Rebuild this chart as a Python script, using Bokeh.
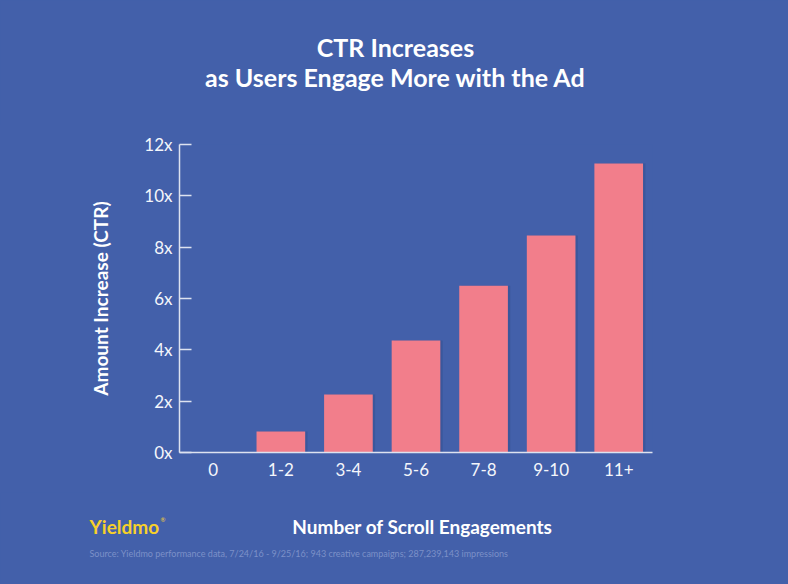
from bokeh.plotting import figure
from bokeh.models import Range1d, FactorRange, FixedTicker, Label, ColumnDataSource
from bokeh.layouts import column
from bokeh.transform import dodge
from bokeh.embed import file_html
from bokeh.resources import INLINE

categories = ["0", "1-2", "3-4", "5-6", "7-8", "9-10", "11+"]
ctr_increase = [0.0, 0.82, 2.26, 4.36, 6.5, 8.45, 11.26]
y_ticks = [0, 2, 4, 6, 8, 10, 12]
y_tick_labels = ["0x", "2x", "4x", "6x", "8x", "10x", "12x"]

title_lines = ["CTR Increases", "as Users Engage More with the Ad"]
x_title = "Number of Scroll Engagements"
y_title = "Amount Increase (CTR)"
brand = "Yieldmo"
source_note = "Source: Yieldmo performance data, 7/24/16 - 9/25/16; 943 creative campaigns; 287,239,143 impressions"

BG = "#4360AA"
BAR = "#F27E8B"
FONT = "Lato"
W = 788
H_TOP, H_MAIN, H_BOT = 124, 368, 92


def text_fig(h):
    f = figure(width=W, height=h, x_range=Range1d(0, W), y_range=Range1d(0, h),
               output_backend="svg", toolbar_location=None,
               x_axis_location=None, y_axis_location=None,
               min_border=0, min_border_left=0, min_border_right=0,
               min_border_top=0, min_border_bottom=0)
    f.frame_align = False
    f.background_fill_color = BG
    f.border_fill_color = BG
    f.outline_line_color = None
    f.grid.grid_line_color = None
    return f


def lab(f, h, top_off, x, y, text, size, color="#FFFFFF", bold=True, align="center"):
    # y given in page pixels; convert to frame-relative screen units (from bottom)
    f.add_layout(Label(x=x, y=h - (y - top_off), x_units="screen", y_units="screen", text=text,
                       text_font=FONT, text_font_size=size, text_color=color,
                       text_font_style="bold" if bold else "normal",
                       text_align=align, text_baseline="middle"))


# ---- title block
top = text_fig(H_TOP)
lab(top, H_TOP, 0, 395, 46, title_lines[0], "25px")
lab(top, H_TOP, 0, 395, 76, title_lines[1], "25px")

# ---- main chart
src = ColumnDataSource(dict(cat=categories, val=ctr_increase))
p = figure(width=W, height=H_MAIN, x_range=FactorRange(*categories, range_padding=0),
           y_range=Range1d(0, 12), output_backend="svg", toolbar_location=None,
           min_border_left=179, min_border_right=136, min_border_top=20, min_border_bottom=40)
p.frame_align = False
p.background_fill_color = BG
p.border_fill_color = BG
p.outline_line_color = None
p.grid.grid_line_color = None

p.vbar(x=dodge("cat", 0.035, range=p.x_range), top="val", width=0.72, source=src,
       fill_color="#34508F", line_color=None, fill_alpha=0.55)
p.vbar(x="cat", top="val", width=0.72, source=src, fill_color=BAR, line_color=None)

axis_color = "#DDE2F0"
for ax in (p.xaxis[0], p.yaxis[0]):
    ax.axis_line_color = axis_color
    ax.axis_line_width = 1.5
    ax.major_label_text_color = "#F4F6FB"
    ax.major_label_text_font = FONT
    ax.major_label_text_font_size = "17px"
    ax.minor_tick_line_color = None

p.yaxis.ticker = FixedTicker(ticks=y_ticks)
p.yaxis.major_label_overrides = {t: l for t, l in zip(y_ticks, y_tick_labels)}
p.yaxis.major_tick_in = 12
p.yaxis.major_tick_out = 0
p.yaxis.major_tick_line_color = axis_color
p.yaxis.major_tick_line_width = 1.5
p.yaxis.major_label_standoff = 7
p.yaxis.axis_label = y_title
p.yaxis.axis_label_text_font = FONT
p.yaxis.axis_label_text_font_size = "19px"
p.yaxis.axis_label_text_font_style = "bold"
p.yaxis.axis_label_text_color = "#FFFFFF"
p.yaxis.axis_label_standoff = 29

p.xaxis.major_tick_in = 0
p.xaxis.major_tick_out = 0
p.xaxis.major_tick_line_color = None
p.xaxis.major_label_standoff = 10

# ---- footer
bot = text_fig(H_BOT)
off = H_TOP + H_MAIN
lab(bot, H_BOT, off, 422, 526, x_title, "19px")
lab(bot, H_BOT, off, 89, 526, brand, "19px", color="#F7D02A", align="left")
lab(bot, H_BOT, off, 160, 519, "\u00ae", "6px", color="#F7D02A", bold=False, align="left")
lab(bot, H_BOT, off, 89, 553, source_note, "9px", color="#7C90C8", bold=False, align="left")

layout = column(top, p, bot, spacing=0, styles={"background-color": BG})
open("out.html", "w").write(file_html(layout, INLINE))
